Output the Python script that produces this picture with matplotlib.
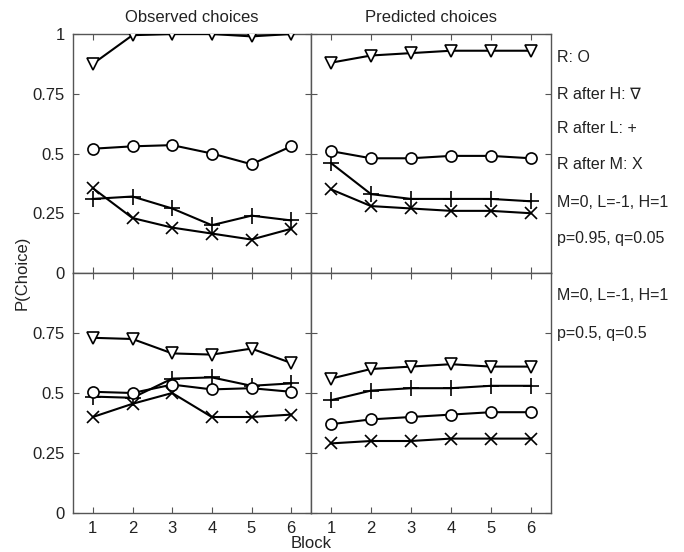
import matplotlib
matplotlib.use("Agg")
import matplotlib.pyplot as plt

blocks = [1, 2, 3, 4, 5, 6]

# Top row (p=0.95, q=0.05)
obs_top_R = [0.52, 0.53, 0.535, 0.50, 0.455, 0.53]
obs_top_H = [0.875, 0.995, 1.0, 1.0, 0.99, 1.0]
obs_top_L = [0.31, 0.32, 0.27, 0.20, 0.24, 0.22]
obs_top_M = [0.355, 0.23, 0.19, 0.165, 0.14, 0.185]

pred_top_R = [0.51, 0.48, 0.48, 0.49, 0.49, 0.48]
pred_top_H = [0.88, 0.91, 0.92, 0.93, 0.93, 0.93]
pred_top_L = [0.46, 0.33, 0.31, 0.31, 0.31, 0.30]
pred_top_M = [0.35, 0.28, 0.27, 0.26, 0.26, 0.25]

# Bottom row (p=0.5, q=0.5)
obs_bot_R = [0.505, 0.50, 0.535, 0.515, 0.52, 0.505]
obs_bot_H = [0.73, 0.725, 0.665, 0.66, 0.685, 0.625]
obs_bot_L = [0.485, 0.48, 0.56, 0.565, 0.53, 0.54]
obs_bot_M = [0.40, 0.455, 0.50, 0.40, 0.40, 0.41]

pred_bot_R = [0.37, 0.39, 0.40, 0.41, 0.42, 0.42]
pred_bot_H = [0.56, 0.60, 0.61, 0.62, 0.61, 0.61]
pred_bot_L = [0.47, 0.51, 0.52, 0.52, 0.53, 0.53]
pred_bot_M = [0.29, 0.30, 0.30, 0.31, 0.31, 0.31]

top_ticks = [0, 0.25, 0.5, 0.75, 1]
top_ticklabels = ["0", "0.25", "0.5", "0.75", "1"]
bot_ticks = [0, 0.25, 0.5, 0.75]
bot_ticklabels = ["0", "0.25", "0.5", "0.75"]

titles = ["Observed choices", "Predicted choices"]
legend_top = ["R: O", "R after H: \u2207", "R after L: +", "R after M: X",
              "M=0, L=-1, H=1", "p=0.95, q=0.05"]
legend_bot = ["M=0, L=-1, H=1", "p=0.5, q=0.5"]

plt.rcParams['font.family'] = ['Liberation Sans', 'DejaVu Sans']
fig = plt.figure(figsize=(6.84, 5.52), dpi=100)

W = 684.0
H = 552.0
x0, xm, x1 = 73, 311, 551
y0, ym, y1 = 34, 273, 513

def rect(xa, xb, ya, yb):
    return [xa / W, 1 - yb / H, (xb - xa) / W, (yb - ya) / H]

axes = {
    (0, 0): fig.add_axes(rect(x0, xm, y0, ym)),
    (0, 1): fig.add_axes(rect(xm, x1, y0, ym)),
    (1, 0): fig.add_axes(rect(x0, xm, ym, y1)),
    (1, 1): fig.add_axes(rect(xm, x1, ym, y1)),
}

data = {
    (0, 0): (obs_top_R, obs_top_H, obs_top_L, obs_top_M),
    (0, 1): (pred_top_R, pred_top_H, pred_top_L, pred_top_M),
    (1, 0): (obs_bot_R, obs_bot_H, obs_bot_L, obs_bot_M),
    (1, 1): (pred_bot_R, pred_bot_H, pred_bot_L, pred_bot_M),
}

spine_col = "#555555"
txt_col = "#222222"
for (r, c), ax in axes.items():
    R, Hh, L, M = data[(r, c)]
    kw = dict(color="black", lw=1.5, markerfacecolor="white",
              markeredgecolor="black", markeredgewidth=1.2, zorder=3)
    ax.plot(blocks, M, marker="x", markersize=9, **kw)
    ax.plot(blocks, L, marker="+", markersize=12, **kw)
    ax.plot(blocks, R, marker="o", markersize=8, **kw)
    ax.plot(blocks, Hh, marker="v", markersize=9, **kw)
    ax.set_xlim(0.5, 6.5)
    ax.set_ylim(0, 1)
    ax.set_xticks(blocks)
    if r == 0:
        ax.set_yticks(top_ticks)
        ax.set_yticklabels(top_ticklabels)
        ax.set_xticklabels([])
        ax.set_title(titles[c], fontsize=12, pad=9, color=txt_col)
    else:
        ax.set_yticks(bot_ticks)
        ax.set_yticklabels(bot_ticklabels)
    if c == 1:
        ax.set_yticklabels([])
    ax.tick_params(direction="in", top=True, right=True, length=4,
                   width=0.8, color=spine_col, labelsize=12, pad=6,
                   labelcolor=txt_col)
    for s in ax.spines.values():
        s.set_color(spine_col)
        s.set_linewidth(1.0)

ax_tr = axes[(0, 1)]
ys_top = [0.90, 0.749, 0.603, 0.452, 0.293, 0.146]
for t, yy in zip(legend_top, ys_top):
    ax_tr.text(1.025, yy, t, transform=ax_tr.transAxes, fontsize=11.5,
               va="center", ha="left", color=txt_col)
ax_br = axes[(1, 1)]
ys_bot = [0.908, 0.75]
for t, yy in zip(legend_bot, ys_bot):
    ax_br.text(1.025, yy, t, transform=ax_br.transAxes, fontsize=11.5,
               va="center", ha="left", color=txt_col)

fig.text(22 / W, 1 - 273 / H, "P(Choice)", rotation=90, va="center",
         ha="center", fontsize=12, color=txt_col)
fig.text(311 / W, 1 - 543 / H, "Block", va="center", ha="center",
         fontsize=12, color=txt_col)

fig.savefig("out.png", dpi=100)
